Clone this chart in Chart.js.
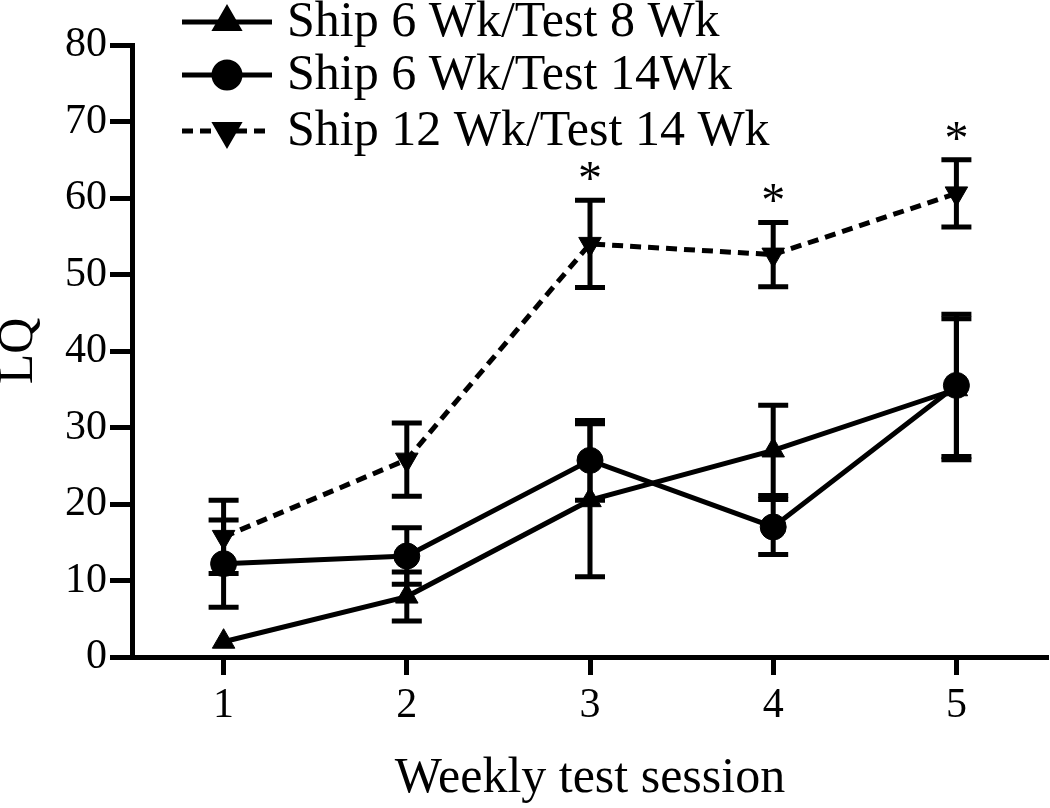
<!DOCTYPE html>
<html>
<head>
<meta charset="utf-8">
<script src="https://cdn.jsdelivr.net/npm/chart.js@4/dist/chart.umd.min.js"></script>
<style>
  html, body { margin: 0; padding: 0; background: #fff; }
  #wrap { width: 1050px; height: 808px; }
</style>
</head>
<body>
<div id="wrap"><canvas id="lqChart" width="1050" height="808"></canvas></div>
<script>
// values
const sessions = [1, 2, 3, 4, 5];
const seriesNames = ["Ship 6 Wk/Test 8 Wk", "Ship 6 Wk/Test 14Wk", "Ship 12 Wk/Test 14 Wk"];
const ship6test8 = [2, 7.9, 20.5, 27, 35];
const ship6test8Err = [0, 3.2, 10, 5.9, 9.2];
const ship6test14 = [12.2, 13.2, 25.7, 17, 35.5];
const ship6test14Err = [5.7, 3.7, 5.2, 3.6, 9.3];
const ship12test14 = [15.7, 25.8, 54, 52.6, 60.6];
const ship12test14Err = [4.8, 4.8, 5.7, 4.2, 4.4];
const stars = ["", "", "*", "*", "*"];
const xTicks = [1, 2, 3, 4, 5];
const yTicks = [0, 10, 20, 30, 40, 50, 60, 70, 80];

const serif = "'Liberation Serif', 'Times New Roman', serif";

function pts(vals) {
    return sessions.map((s, i) => ({ x: s, y: vals[i] }));
}

const errorBars = {
    id: "errorBars",
    afterDatasetsDraw(chart) {
        const ctx = chart.ctx;
        const xs = chart.scales.x, ys = chart.scales.y;
        ctx.save();
        ctx.strokeStyle = "#000";
        ctx.lineWidth = 5;
        ctx.setLineDash([]);
        chart.data.datasets.forEach(ds => {
            ds.errors.forEach((e, i) => {
                if (!e) return;
                const px = xs.getPixelForValue(sessions[i]);
                const hi = ys.getPixelForValue(ds.data[i].y + e);
                const lo = ys.getPixelForValue(ds.data[i].y - e);
                ctx.beginPath();
                ctx.moveTo(px, hi); ctx.lineTo(px, lo);
                ctx.moveTo(px - 15, hi); ctx.lineTo(px + 15, hi);
                ctx.moveTo(px - 15, lo); ctx.lineTo(px + 15, lo);
                ctx.stroke();
            });
        });
        // significance stars over the 12 Wk group
        ctx.fillStyle = "#000";
        ctx.font = "48px " + serif;
        ctx.textAlign = "center";
        ctx.textBaseline = "alphabetic";
        stars.forEach((s, i) => {
            if (!s) return;
            const m = ctx.measureText(s);
            const px = xs.getPixelForValue(sessions[i]);
            const cy = ys.getPixelForValue(ship12test14[i] + ship12test14Err[i]) - 29;
            ctx.fillText(s, px, cy + (m.actualBoundingBoxAscent - m.actualBoundingBoxDescent) / 2);
        });
        ctx.restore();
    }
};

const customLegend = {
    id: "customLegend",
    afterDraw(chart) {
        const ctx = chart.ctx;
        const rows = [22, 75, 131];
        ctx.save();
        chart.data.datasets.forEach((ds, i) => {
            const y = rows[i];
            ctx.strokeStyle = "#000";
            ctx.fillStyle = "#000";
            ctx.lineWidth = 5;
            ctx.setLineDash(ds.borderDash || []);
            ctx.beginPath();
            ctx.moveTo(182, y); ctx.lineTo(272, y);
            ctx.stroke();
            ctx.setLineDash([]);
            Chart.helpers.drawPoint(ctx, {
                pointStyle: ds.pointStyle, radius: ds.pointRadius,
                rotation: ds.pointRotation || 0, borderWidth: 1
            }, 227, y);
            ctx.font = "50px " + serif;
            ctx.textAlign = "left";
            ctx.textBaseline = "middle";
            ctx.fillText(ds.label, 287, y + 1);
        });
        ctx.restore();
    }
};

const common = {
    borderColor: "#000", backgroundColor: "#000",
    pointBackgroundColor: "#000", pointBorderColor: "#000",
    borderWidth: 5, pointBorderWidth: 1, tension: 0, clip: false
};

new Chart(document.getElementById("lqChart"), {
    type: "line",
    data: {
        datasets: [
            { ...common, label: seriesNames[0], data: pts(ship6test8), errors: ship6test8Err,
              pointStyle: "triangle", pointRadius: 13 },
            { ...common, label: seriesNames[1], data: pts(ship6test14), errors: ship6test14Err,
              pointStyle: "circle", pointRadius: 13 },
            { ...common, label: seriesNames[2], data: pts(ship12test14), errors: ship12test14Err,
              pointStyle: "triangle", pointRotation: 180, pointRadius: 13, borderDash: [11, 7] }
        ]
    },
    options: {
        responsive: false,
        animation: false,
        layout: { autoPadding: false, padding: { left: 0, top: 45, right: 2, bottom: 0 } },
        plugins: { legend: { display: false }, tooltip: { enabled: false } },
        scales: {
            x: {
                type: "linear", min: 0.5, max: 5.5,
                afterFit(s) { s.height = 151; },
                afterBuildTicks(s) { s.ticks = xTicks.map(v => ({ value: v })); },
                border: { display: true, color: "#000", width: 5 },
                grid: { drawOnChartArea: false, drawTicks: true, tickLength: 18, tickWidth: 5, tickColor: "#000" },
                ticks: { color: "#000", padding: 6, font: { family: serif, size: 42 } },
                title: { display: true, text: "Weekly test session", color: "#000",
                         font: { family: serif, size: 50, lineHeight: 1 }, padding: { top: 0, bottom: 4 } }
            },
            y: {
                min: 0, max: 80,
                afterFit(s) { s.width = 132; },
                afterBuildTicks(s) { s.ticks = yTicks.map(v => ({ value: v })); },
                border: { display: true, color: "#000", width: 5 },
                grid: { drawOnChartArea: false, drawTicks: true, tickLength: 22, tickWidth: 5, tickColor: "#000" },
                ticks: { color: "#000", padding: 3, font: { family: serif, size: 42 } },
                title: { display: true, text: "LQ", color: "#000",
                         font: { family: serif, size: 50, lineHeight: 0.76 }, padding: 0 }
            }
        }
    },
    plugins: [errorBars, customLegend]
});
</script>
</body>
</html>
